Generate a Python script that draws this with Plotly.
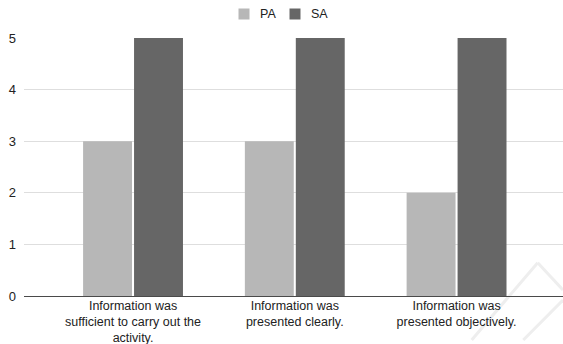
import plotly.graph_objects as go

# Survey statements (category axis), wrapped onto several lines
categories = [
    "Information was<br>sufficient to carry out the<br>activity.",
    "Information was<br>presented clearly.",
    "Information was<br>presented objectively.",
]
series_names = ["PA", "SA"]
pa_values = [3, 3, 2]
sa_values = [5, 5, 5]
series_colors = ["#b7b7b7", "#666666"]
y_tick_values = [0, 1, 2, 3, 4, 5]

W, H = 563, 344
M_L, M_R, M_T, M_B = 24, 0, 38, 48
PW, PH = W - M_L - M_R, H - M_T - M_B


def px_to_paper(px, py):
    """Convert a pixel position on the page to plot-area paper coordinates."""
    return (px - M_L) / PW, (H - M_B - py) / PH


FONT = "Arial, Liberation Sans, sans-serif"
TEXT_COLOR = "#222222"

fig = go.Figure()
for name, vals, col in zip(series_names, [pa_values, sa_values], series_colors):
    fig.add_trace(go.Bar(
        x=categories, y=vals, name=name,
        marker=dict(color=col, line=dict(width=0)),
        showlegend=False,
    ))

shapes = []
annotations = []

# Legend drawn as swatches + labels centred above the plot
legend_x = [238.5, 289.5]
for name, col, sx in zip(series_names, series_colors, legend_x):
    x0, y0 = px_to_paper(sx, 19.5)
    x1, y1 = px_to_paper(sx + 11, 8.5)
    shapes.append(dict(type="rect", xref="paper", yref="paper",
                       x0=x0, x1=x1, y0=y0, y1=y1,
                       fillcolor=col, line=dict(width=0)))
    tx, ty = px_to_paper(sx + 19.5, 14)
    annotations.append(dict(text=name, xref="paper", yref="paper",
                            x=tx, y=ty, xanchor="left", yanchor="middle",
                            showarrow=False,
                            font=dict(family=FONT, size=12.5, color=TEXT_COLOR)))

# Faint publisher watermark in the lower right corner
wm_lines = [
    [(471.7, 340), (537.7, 262.7), (563, 290)],
    [(523.3, 340), (563, 300)],
]
for pts in wm_lines:
    for (ax, ay), (bx, by) in zip(pts[:-1], pts[1:]):
        x0, y0 = px_to_paper(ax, ay)
        x1, y1 = px_to_paper(bx, by)
        shapes.append(dict(type="line", xref="paper", yref="paper",
                           x0=x0, y0=y0, x1=x1, y1=y1, layer="below",
                           line=dict(color="#eeeeee", width=3)))

fig.update_layout(
    width=W, height=H, autosize=False,
    margin=dict(l=M_L, r=M_R, t=M_T, b=M_B, pad=0),
    paper_bgcolor="white", plot_bgcolor="rgba(0,0,0,0)",
    barmode="group", bargap=0.37, bargroupgap=0.04,
    font=dict(family=FONT, size=13, color=TEXT_COLOR),
    shapes=shapes, annotations=annotations,
    xaxis=dict(
        type="category", range=[-0.674, 2.658], automargin=False,
        showgrid=False, showline=False, ticks="", ticklabelstandoff=0,
        tickfont=dict(family=FONT, size=12.5, color=TEXT_COLOR),
        fixedrange=True,
    ),
    yaxis=dict(
        range=[0, 5], tickvals=y_tick_values, automargin=False,
        showgrid=True, gridcolor="#dedede", gridwidth=1,
        zeroline=True, zerolinecolor="#4a4a4a", zerolinewidth=1,
        showline=False, ticks="", ticklabelstandoff=7,
        tickfont=dict(family=FONT, size=13, color=TEXT_COLOR),
        fixedrange=True,
    ),
)

fig.write_html("out.html", config={"displayModeBar": False})
